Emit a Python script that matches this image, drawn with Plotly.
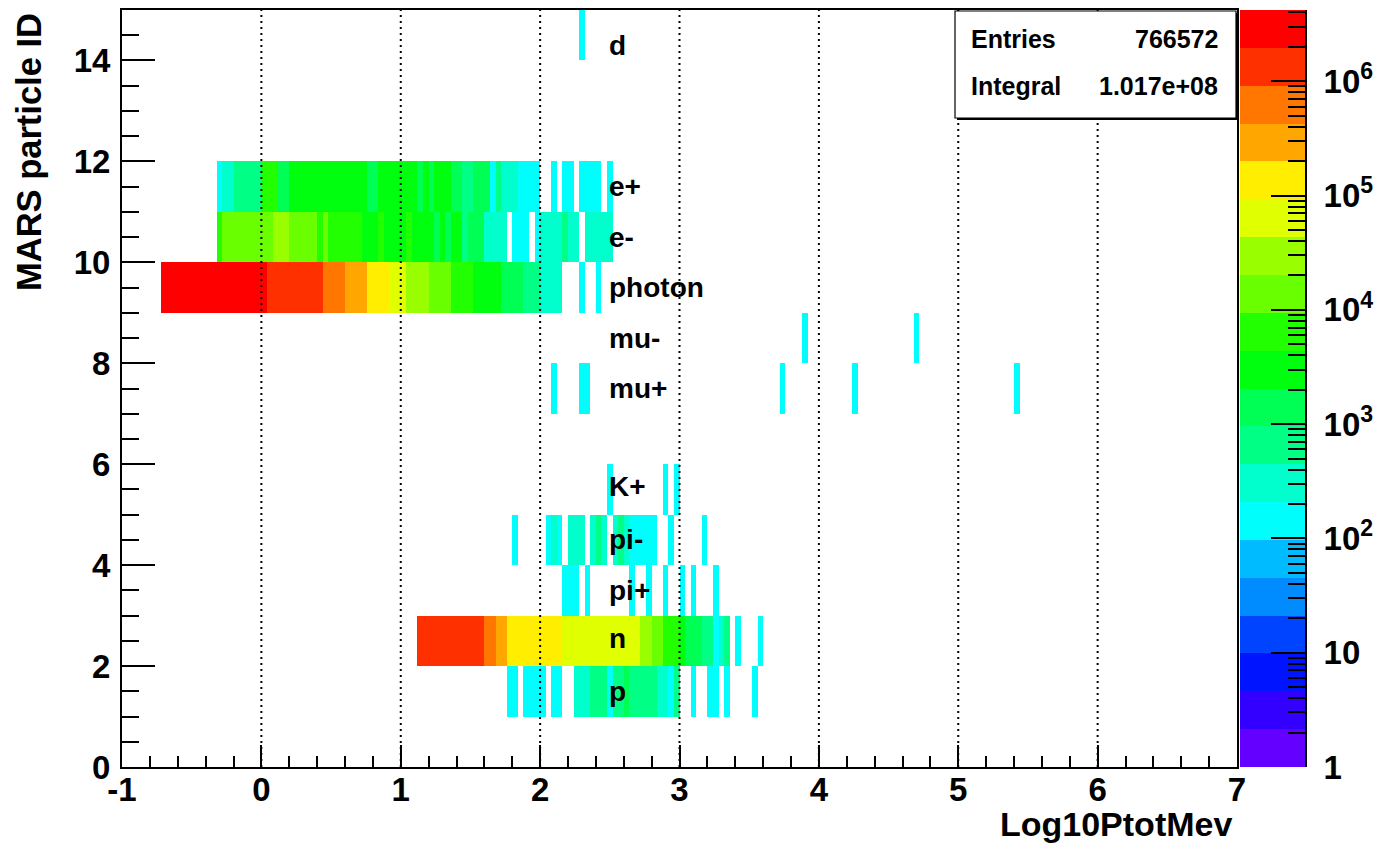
import numpy as np
import plotly.graph_objects as go

# ---------------- binning / scales ----------------
x_lo, x_hi, bin_w = -1.0, 7.0, 0.04
y_lo, y_hi = 0, 15
z_min, z_max = 1.0, 4.2e6

x_ticks = [-1, 0, 1, 2, 3, 4, 5, 6, 7]
y_ticks = [0, 2, 4, 6, 8, 10, 12, 14]
z_ticks = [1, 10, 100, 1e3, 1e4, 1e5, 1e6]
z_tick_text = ["1", "10", "10<sup>2</sup>", "10<sup>3</sup>", "10<sup>4</sup>",
               "10<sup>5</sup>", "10<sup>6</sup>"]

particle_names = ["p", "n", "pi+", "pi-", "K+", "mu+", "mu-", "photon", "e-", "e+", "d"]
particle_ids = [1, 2, 3, 4, 5, 7, 8, 9, 10, 11, 14]
label_y = [1.5, 2.55, 3.5, 4.5, 5.55, 7.5, 8.5, 9.5, 10.5, 11.5, 14.3]

stats_labels = ["Entries", "Integral"]
stats_values = ["766572", "1.017e+08"]

# ---------------- data: contiguous runs (lower edge of first bin, counts; 0 = empty) -------
photon_start = -0.72
photon_counts = [2600000, 2900000, 3200000, 3400000, 3500000, 3600000, 3700000, 3600000,
                 3500000, 3400000, 3300000, 3100000, 3000000, 2800000, 2600000, 2400000,
                 2300000, 2100000, 2000000,
                 1750000, 1650000, 1550000, 1450000, 1350000, 1250000, 1150000, 1080000,
                 1000000, 930000,
                 820000, 720000, 620000, 520000,
                 390000, 330000, 270000, 220000,
                 180000, 155000, 130000, 105000,
                 85000, 68000, 52000,
                 40000, 33000, 27000, 22000,
                 19000, 16000, 13000, 10500,
                 8800, 7500, 6200, 5000,
                 4100, 3600, 3100, 2700, 2300,
                 1900, 1600, 1300, 1100,
                 900, 750, 600,
                 420, 360, 300, 250,
                 0, 0, 0, 150, 0, 0, 130]

e_plus_start = -0.32
e_plus_counts = [150, 320, 400, 600, 700, 800, 850, 900,
                 5000, 5500, 5200, 1800, 1900,
                 2600, 3000, 3300, 3500, 3700, 3800, 3900, 4000, 3900, 3800, 3700, 3600,
                 3400, 3200,
                 1800, 1700,
                 2900, 3100, 3000, 2800, 2700, 2600, 2500,
                 1500, 2300, 1400, 2200, 2100, 2100,
                 1500, 1300, 800, 700, 1200, 1100, 1000, 180, 600, 350, 260, 230,
                 160, 150, 140, 130,
                 0, 0, 150, 0, 150, 140, 0, 150, 160, 140, 130, 0, 120]

e_minus_start = -0.32
e_minus_counts = [5000, 11000, 12500, 13000, 20000,
                  15000, 16000, 17000, 16500, 16000,
                  21000, 23000, 20500,
                  18000, 17000, 16000, 15000, 14000,
                  8500, 10000,
                  8800, 8400, 8000, 7500, 7000, 6500,
                  4200, 4000, 3800, 4500,
                  4100, 4300, 4000, 3900, 4400, 3700, 3600, 3400, 3300,
                  1900, 2600, 1800, 2400, 2200, 800, 1500, 1300, 1100,
                  400, 350, 300, 250,
                  0, 180, 160, 150, 0, 140,
                  300, 280, 260, 240, 480, 260, 240,
                  0, 280, 260, 240, 230, 220]

n_start = 1.12
n_counts = [1200000, 1400000, 1500000, 1600000, 1650000, 1700000, 1700000, 1650000,
            1600000, 1500000, 1300000, 1100000,
            800000, 650000, 380000, 300000,
            180000, 170000, 165000, 160000, 150000, 145000, 140000, 130000, 120000, 110000,
            85000, 82000, 80000, 78000, 75000, 72000, 70000, 68000, 65000, 62000, 58000,
            54000, 50000, 46000,
            38000, 30000, 18000, 15000, 8500, 7000, 5500, 3500,
            1900, 1500, 1100, 800, 600, 190, 320, 500,
            0, 150, 0, 0, 0, 140]

p_start = 1.76
p_counts = [150, 160, 0, 170, 150, 180, 160, 0, 150, 170, 0, 0,
            260, 300, 280, 500, 560, 520, 190, 520, 600, 1000,
            700, 650, 600, 560, 500, 400, 350, 180, 460,
            0, 0, 150, 0, 0, 160, 150, 0, 140, 0, 0, 0, 0, 130]

pi_minus_start = 1.80
pi_minus_counts = [150, 0, 0, 0, 0, 0, 160, 280, 170, 0, 260, 300, 250, 0,
                   280, 500, 300, 0, 270, 480, 260, 190, 170, 160, 150, 140,
                   0, 0, 150, 0, 0, 0, 0, 0, 130]

# ---------------- data: isolated bins (lower bin edge, counts) ----------------
pi_plus_logp = [2.16, 2.20, 2.24, 2.32, 2.64, 2.76, 2.88, 3.00, 3.08, 3.24]
pi_plus_counts = [150, 160, 140, 150, 150, 140, 150, 130, 150, 140]

k_plus_logp = [2.48, 2.88, 2.96]
k_plus_counts = [150, 140, 150]

mu_plus_logp = [2.08, 2.28, 2.32, 3.72, 4.24, 5.40]
mu_plus_counts = [150, 150, 140, 130, 140, 120]

mu_minus_logp = [3.88, 4.68]
mu_minus_counts = [140, 130]

d_logp = [2.28]
d_counts = [150]

# ROOT "pretty" palette, 20 contour levels
palette_colors = ["#6300ff", "#3300ff", "#0014ff", "#0044ff", "#008bff", "#00bbff",
                  "#00fffc", "#00ffcc", "#00ff85", "#00ff55", "#00ff0e", "#22ff00",
                  "#69ff00", "#99ff00", "#e0ff00", "#ffee00", "#ffa700", "#ff7700",
                  "#ff3000", "#ff0000"]

# ---------------- build the 2D histogram ----------------
n_x = int(round((x_hi - x_lo) / bin_w))
x_edges = np.linspace(x_lo, x_hi, n_x + 1)
y_edges = np.arange(y_lo, y_hi + 1)
counts = np.zeros((y_hi - y_lo, n_x))


def bin_of(v):
    return int(round((v - x_lo) / bin_w))


def fill_run(pid, start, vals):
    k0 = bin_of(start)
    for i, v in enumerate(vals):
        counts[pid - y_lo, k0 + i] += v


def fill_points(pid, edges, vals):
    for e, v in zip(edges, vals):
        counts[pid - y_lo, bin_of(e)] += v


fill_run(9, photon_start, photon_counts)
fill_run(11, e_plus_start, e_plus_counts)
fill_run(10, e_minus_start, e_minus_counts)
fill_run(2, n_start, n_counts)
fill_run(1, p_start, p_counts)
fill_run(4, pi_minus_start, pi_minus_counts)
fill_points(3, pi_plus_logp, pi_plus_counts)
fill_points(5, k_plus_logp, k_plus_counts)
fill_points(7, mu_plus_logp, mu_plus_counts)
fill_points(8, mu_minus_logp, mu_minus_counts)
fill_points(14, d_logp, d_counts)

with np.errstate(divide="ignore"):
    z_log = np.where(counts >= z_min, np.log10(np.maximum(counts, 1e-9)), np.nan)

lz_min, lz_max = np.log10(z_min), np.log10(z_max)
n_lev = len(palette_colors)
colorscale = []
for i, c in enumerate(palette_colors):
    colorscale.append([i / n_lev, c])
    colorscale.append([(i + 1) / n_lev, c])

# ---------------- geometry (pixels) ----------------
W, H = 1378, 843
L, R_edge, T, B_edge = 122, 1305, 10, 767      # outer plotting region in px
frame_right = 1237
pal_left = 1240
PW, PH = R_edge - L, B_edge - T


def px(xp):
    return (xp - L) / PW


def py(yp):
    return (B_edge - yp) / PH


FONT = "Liberation Sans"
fig = go.Figure()

fig.add_trace(go.Heatmap(
    x=x_edges, y=y_edges, z=z_log, zmin=lz_min, zmax=lz_max,
    colorscale=colorscale, showscale=False, zsmooth=False, hoverinfo="skip",
    xaxis="x", yaxis="y"))

# palette drawn as its own heatmap on a log-units axis
lev_edges = np.linspace(lz_min, lz_max, n_lev + 1)
lev_mid = 0.5 * (lev_edges[:-1] + lev_edges[1:])
fig.add_trace(go.Heatmap(
    x=[0, 1], y=lev_edges, z=[[v] for v in lev_mid], zmin=lz_min, zmax=lz_max,
    colorscale=colorscale, showscale=False, zsmooth=False, hoverinfo="skip",
    xaxis="x2", yaxis="y2"))

minor_z = []
for d in range(0, 7):
    for m in range(2, 10):
        v = m * 10 ** d
        if v < z_max:
            minor_z.append(np.log10(v))

tickfont = dict(family=FONT, size=33, color="black", weight="bold")

fig.update_layout(
    template="none",
    width=W, height=H,
    margin=dict(l=L, r=W - R_edge, t=T, b=H - B_edge, pad=0, autoexpand=False),
    paper_bgcolor="white", plot_bgcolor="white",
    showlegend=False,
    xaxis=dict(domain=[0, px(frame_right)], range=[x_lo, x_hi], tickmode="array",
               tickvals=x_ticks, ticktext=[str(t) for t in x_ticks],
               ticks="inside", ticklen=22, tickwidth=2, tickcolor="black",
               minor=dict(dtick=0.2, tick0=-1, ticks="inside", ticklen=11, tickwidth=2,
                          tickcolor="black", showgrid=False),
               showline=True, linecolor="black", linewidth=2, mirror=True,
               showgrid=False, zeroline=False, tickfont=tickfont, automargin=False,
               ticklabelstandoff=-8, layer="above traces", anchor="y"),
    yaxis=dict(domain=[0, 1], range=[y_lo, y_hi], tickmode="array", tickvals=y_ticks,
               ticktext=[str(t) for t in y_ticks],
               ticks="inside", ticklen=33, tickwidth=2, tickcolor="black",
               minor=dict(dtick=0.5, tick0=0, ticks="inside", ticklen=17, tickwidth=2,
                          tickcolor="black", showgrid=False),
               showline=True, linecolor="black", linewidth=2, mirror=True,
               showgrid=False, zeroline=False, tickfont=tickfont, automargin=False,
               ticklabelstandoff=3, layer="above traces", anchor="x"),
    xaxis2=dict(domain=[px(pal_left), 1], range=[0, 1], visible=False, fixedrange=True,
                anchor="y2", automargin=False),
    yaxis2=dict(domain=[0, 1], range=[lz_min, lz_max], anchor="x2", side="right",
                tickmode="array", tickvals=[np.log10(v) for v in z_ticks],
                ticktext=z_tick_text, ticks="inside", ticklen=34, tickwidth=2,
                tickcolor="black",
                minor=dict(tickmode="array", tickvals=minor_z, ticks="inside",
                           ticklen=17, tickwidth=2, tickcolor="black", showgrid=False),
                showline=True, linecolor="black", linewidth=2, showgrid=False,
                zeroline=False, tickfont=tickfont, ticklabelstandoff=10,
                automargin=False, layer="above traces"),
)

# dotted vertical grid on top of the cells (as ROOT draws it)
for t in x_ticks[1:-1]:
    fig.add_shape(type="line", xref="x", yref="y", x0=t, x1=t, y0=y_lo, y1=y_hi,
                  line=dict(color="black", width=2, dash="2px,4px"), layer="above")

# statistics box with shadow
fig.add_shape(type="rect", xref="paper", yref="paper",
              x0=px(957), x1=px(1238), y0=py(120), y1=py(13),
              line=dict(width=0), fillcolor="black", layer="above")
fig.add_shape(type="rect", xref="paper", yref="paper",
              x0=px(955), x1=px(1236), y0=py(118), y1=py(11),
              line=dict(color="black", width=1.2), fillcolor="white", layer="above")

stat_font = dict(family=FONT, size=25, color="black", weight="bold")
for lab, val, ypix in zip(stats_labels, stats_values, [39, 86]):
    fig.add_annotation(x=px(969), y=py(ypix), xref="paper", yref="paper", text=lab,
                       showarrow=False, xanchor="left", yanchor="middle", font=stat_font)
    fig.add_annotation(x=px(1220), y=py(ypix), xref="paper", yref="paper", text=val,
                       showarrow=False, xanchor="right", yanchor="middle", font=stat_font)

# particle labels
lab_font = dict(family=FONT, size=28, color="black", weight="bold")
for name, ly in zip(particle_names, label_y):
    fig.add_annotation(x=2.48, y=ly, xref="x", yref="y", text=name,
                       showarrow=False, xanchor="left", yanchor="middle", font=lab_font)

# axis titles (ROOT style: right / top aligned)
fig.add_annotation(x=px(1234), y=py(824), xref="paper", yref="paper", text="Log10PtotMev",
                   showarrow=False, xanchor="right", yanchor="middle",
                   font=dict(family=FONT, size=34, color="black", weight="bold"))
fig.add_annotation(x=px(29), y=py(11), xref="paper", yref="paper", text="MARS particle ID",
                   textangle=-90, showarrow=False, xanchor="center", yanchor="top",
                   font=dict(family=FONT, size=34.5, color="black", weight="bold"))

fig.write_html("out.html")
